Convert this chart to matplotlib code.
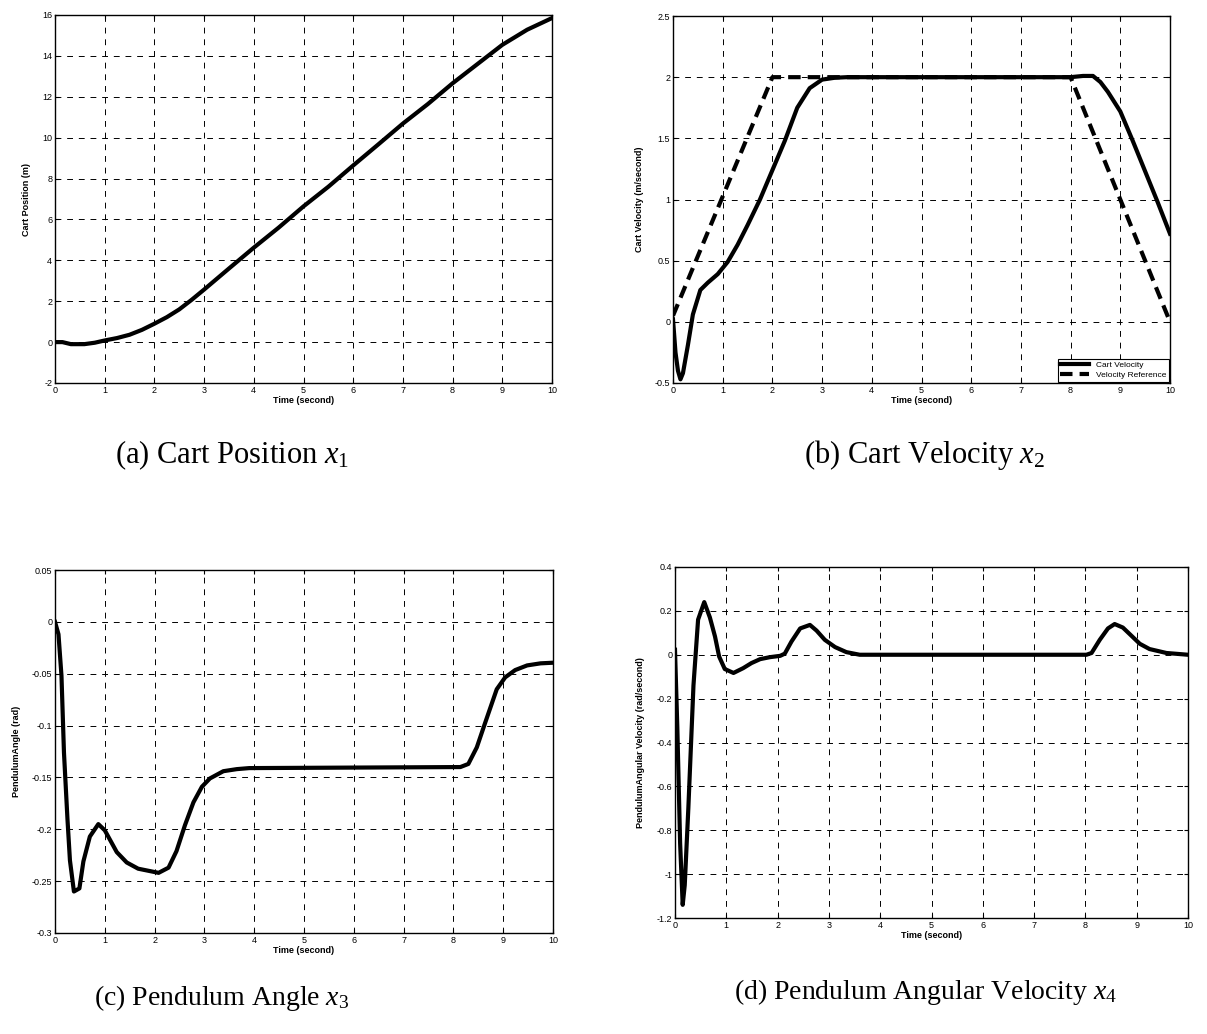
import matplotlib
matplotlib.use("Agg")
import matplotlib.pyplot as plt
from matplotlib.ticker import FuncFormatter

plt.rcParams['font.family'] = ['Liberation Sans', 'DejaVu Sans']
plt.rcParams['mathtext.fontset'] = 'custom'
plt.rcParams['mathtext.rm'] = 'Liberation Serif'
plt.rcParams['mathtext.it'] = 'Liberation Serif:italic'

# (a) cart position
t_pos = [0, 0.15, 0.32, 0.59, 0.8, 1, 1.25, 1.5, 1.75, 2, 2.25, 2.5, 2.75, 3, 3.5,
         4, 4.5, 5, 5.5, 6, 6.5, 7, 7.5, 8, 8.5, 9, 9.5, 10]
pos = [0, 0.0, -0.1, -0.1, -0.03, 0.08, 0.2, 0.36, 0.6, 0.9, 1.22, 1.6, 2.07, 2.57, 3.6,
       4.62, 5.6, 6.64, 7.6, 8.64, 9.66, 10.69, 11.64, 12.66, 13.6, 14.54, 15.28, 15.85]

# (b) cart velocity + reference
t_vel = [0, 0.05, 0.1, 0.15, 0.2, 0.3, 0.4, 0.55, 0.7, 0.9, 1.1, 1.3, 1.5, 1.75, 2,
         2.25, 2.5, 2.75, 3, 3.25, 3.5, 8, 8.25, 8.45, 8.6, 8.75, 9, 9.25, 9.5, 9.75, 10]
vel = [0.02, -0.25, -0.4, -0.47, -0.42, -0.19, 0.06, 0.26, 0.32, 0.39, 0.49, 0.63, 0.79,
       1.0, 1.24, 1.48, 1.75, 1.91, 1.98, 1.995, 2.0, 2.0, 2.01, 2.01, 1.96, 1.88, 1.72,
       1.48, 1.23, 0.98, 0.72]
t_ref = [0, 2, 8, 10]
vel_ref = [0.05, 2, 2, 0]

# (c) pendulum angle
t_ang = [0, 0.07, 0.13, 0.18, 0.25, 0.3, 0.38, 0.49, 0.57, 0.7, 0.87, 1.0, 1.24, 1.44,
         1.67, 2.08, 2.28, 2.44, 2.61, 2.78, 2.95, 3.11, 3.38, 3.65, 3.9, 8.14, 8.3,
         8.47, 8.64, 8.87, 9.04, 9.24, 9.48, 9.75, 10]
ang = [0, -0.012, -0.052, -0.126, -0.19, -0.23, -0.26, -0.257, -0.231, -0.207, -0.195,
       -0.201, -0.222, -0.232, -0.238, -0.242, -0.237, -0.221, -0.196, -0.174, -0.159,
       -0.151, -0.144, -0.142, -0.141, -0.140, -0.137, -0.121, -0.097, -0.065, -0.0535,
       -0.0465, -0.042, -0.040, -0.0394]

# (d) pendulum angular velocity
t_angv = [0, 0.045, 0.1, 0.15, 0.19, 0.26, 0.36, 0.45, 0.57, 0.68, 0.78, 0.86, 0.97,
          1.14, 1.33, 1.49, 1.66, 1.85, 2.05, 2.14, 2.27, 2.44, 2.63, 2.76, 2.92, 3.12,
          3.34, 3.6, 8.02, 8.12, 8.28, 8.44, 8.57, 8.73, 8.9, 9.06, 9.25, 9.58, 10]
angv = [0.023, -0.33, -0.86, -1.14, -1.05, -0.70, -0.14, 0.16, 0.24, 0.17, 0.083, -0.008,
        -0.065, -0.083, -0.061, -0.038, -0.020, -0.011, -0.005, 0.005, 0.06, 0.12, 0.136,
        0.11, 0.068, 0.035, 0.012, 0.0, 0.0, 0.008, 0.068, 0.12, 0.14, 0.124, 0.086, 0.05,
        0.026, 0.008, 0.0]

W, H = 1207, 1034
fig = plt.figure(figsize=(W / 100, H / 100), dpi=100)


def make_axes(l, r, t, b):
    return fig.add_axes([l / W, 1 - b / H, (r - l) / W, (b - t) / H])


def tick_fmt(v, pos):
    v = round(v, 6)
    if v == 0:
        return '0'
    return '%g' % v


def style(ax, ylo, yhi, ystep, ylabel):
    ax.set_xlim(0, 10)
    ax.set_ylim(ylo, yhi)
    ax.set_xticks(range(0, 11))
    n = int(round((yhi - ylo) / ystep))
    ax.set_yticks([round(ylo + i * ystep, 6) for i in range(n + 1)])
    ax.yaxis.set_major_formatter(FuncFormatter(tick_fmt))
    ax.grid(True, color='k', linestyle=(0, (6, 6)), linewidth=0.7)
    ax.tick_params(direction='in', length=3, width=0.8, labelsize=6.5, pad=2,
                   top=True, right=True)
    for s in ax.spines.values():
        s.set_linewidth(1.0)
    ax.set_ylabel(ylabel, fontsize=6.5, fontweight='bold', labelpad=8)
    ax.set_xlabel('Time (second)', fontsize=6.5, fontweight='bold', labelpad=1)


lw = 3

ax = make_axes(55, 552, 15, 383)
ax.plot(t_pos, pos, color='k', lw=lw)
style(ax, -2, 16, 2, 'Cart Position (m)')

ax = make_axes(673, 1170, 16, 383)
ax.plot(t_vel, vel, color='k', lw=lw, label='Cart Velocity')
ax.plot(t_ref, vel_ref, color='k', lw=lw, linestyle=(0, (3, 1.7)),
        label='Velocity Reference')
style(ax, -0.5, 2.5, 0.5, 'Cart Velocity (m/second)')
leg = ax.legend(loc='lower right', fontsize=6, fancybox=False, framealpha=1,
                edgecolor='k', borderaxespad=0.15, handlelength=3.5,
                borderpad=0.3, labelspacing=0.3)
leg.get_frame().set_linewidth(0.8)

ax = make_axes(55, 553, 570, 933)
ax.plot(t_ang, ang, color='k', lw=lw)
style(ax, -0.3, 0.05, 0.05, 'PendulumAngle (rad)')

ax = make_axes(675, 1188, 567, 918)
ax.plot(t_angv, angv, color='k', lw=lw)
style(ax, -1.2, 0.4, 0.2, 'PendulumAngular Velocity (rad/second)')

cap = dict(family='Liberation Serif', ha='center', va='center')
fig.text(232 / W, 1 - 455 / H, r'(a) Cart Position $x_{\mathit{1}}$', fontsize=22, **cap)
fig.text(925 / W, 1 - 455 / H, r'(b) Cart Velocity $x_2$', fontsize=22, **cap)
fig.text(222 / W, 1 - 998 / H, r'(c) Pendulum Angle $x_{\mathit{3}}$', fontsize=20, **cap)
fig.text(925 / W, 1 - 992 / H, r'(d) Pendulum Angular Velocity $x_{\mathit{4}}$',
         fontsize=20, **cap)

fig.savefig('out.png', dpi=100)
